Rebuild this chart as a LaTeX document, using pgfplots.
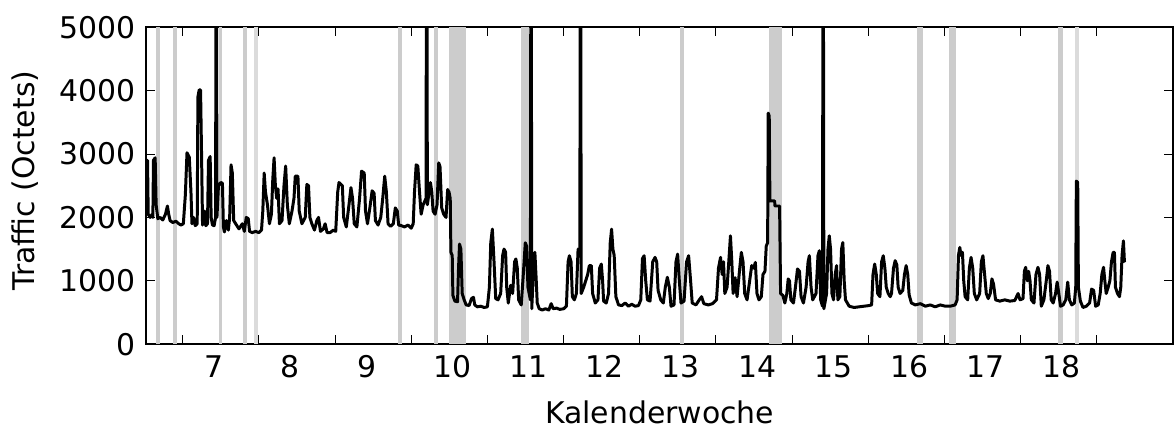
\documentclass[border=0pt]{standalone}
\usepackage{fontspec}
\setmainfont{DejaVu Sans}
\usepackage{pgfplots}
\pgfplotsset{compat=1.18}

\definecolor{band}{gray}{0.80}
\definecolor{bandlight}{gray}{0.86}

\begin{document}
\fontsize{15}{18}\selectfont
\begin{tikzpicture}
\begin{axis}[
    scale only axis,
    width=515.65pt, height=159.2pt,
    xmin=6.02, xmax=19.5,
    ymin=0, ymax=5000,
    axis line style={line width=0.9pt},
    tick align=inside,
    major tick length=4.5pt,
    minor tick length=4.5pt,
    tick style={line width=0.5pt, black},
    xtick={7,...,18},
    major x tick style={draw=none},
    minor xtick={6.5,7.5,...,18.5},
    ytick={0,1000,...,5000},
    /pgf/number format/assume math mode=true,
    /pgf/number format/1000 sep={},
    ticklabel style={font=\fontsize{15}{18}\selectfont},
    xticklabel style={anchor=north west, inner sep=0pt, xshift=-8.25pt, yshift=-5.5pt},
    yticklabel style={inner sep=0pt, xshift=-5pt},
    xlabel={Kalenderwoche},
    ylabel={Traffic (Octets)},
    xlabel style={at={(axis description cs:0.5,0)}, anchor=base, yshift=-39.6pt},
    ylabel style={at={([xshift=-55.85pt]axis description cs:0,0.516)}, anchor=base},
]
% Feiertage / Ausfälle
\addplot[fill=band, draw=none, forget plot] coordinates {(6.150,5000) (6.202,5000)} \closedcycle;
\addplot[fill=band, draw=none, forget plot] coordinates {(6.378,5000) (6.431,5000)} \closedcycle;
\addplot[fill=band, draw=none, forget plot] coordinates {(6.973,5000) (7.019,5000)} \closedcycle;
\addplot[fill=band, draw=none, forget plot] coordinates {(7.293,5000) (7.345,5000)} \closedcycle;
\addplot[fill=bandlight, draw=none, forget plot] coordinates {(7.437,5000) (7.489,5000)} \closedcycle;
\addplot[fill=band, draw=none, forget plot] coordinates {(9.325,5000) (9.377,5000)} \closedcycle;
\addplot[fill=band, draw=none, forget plot] coordinates {(9.795,5000) (9.848,5000)} \closedcycle;
\addplot[fill=band, draw=none, forget plot] coordinates {(9.998,5000) (10.220,5000)} \closedcycle;
\addplot[fill=band, draw=none, forget plot] coordinates {(10.945,5000) (11.050,5000)} \closedcycle;
\addplot[fill=band, draw=none, forget plot] coordinates {(13.030,5000) (13.083,5000)} \closedcycle;
\addplot[fill=band, draw=none, forget plot] coordinates {(14.190,5000) (14.370,5000)} \closedcycle;
\addplot[fill=band, draw=none, forget plot] coordinates {(16.135,5000) (16.214,5000)} \closedcycle;
\addplot[fill=band, draw=none, forget plot] coordinates {(16.558,5000) (16.649,5000)} \closedcycle;
\addplot[fill=band, draw=none, forget plot] coordinates {(17.995,5000) (18.060,5000)} \closedcycle;
\addplot[fill=bandlight, draw=none, forget plot] coordinates {(18.217,5000) (18.270,5000)} \closedcycle;

% Traffic
\addplot[black, line width=1.5pt, line join=round, mark=none] coordinates {
(6.022,2900) (6.039,2900) (6.048,2050) (6.074,2000) (6.100,2050) (6.109,2000)
(6.117,2900) (6.139,2940) (6.152,2200) (6.174,1980) (6.204,2000) (6.239,1960)
(6.274,2050) (6.300,2180) (6.317,2050) (6.335,1950) (6.370,1920) (6.413,1940)
(6.448,1900) (6.478,1880) (6.509,1900) (6.535,2350) (6.557,3020) (6.587,2950)
(6.609,2400) (6.622,1900) (6.643,2000) (6.665,1870) (6.691,1900) (6.700,3900)
(6.717,4010) (6.735,4010) (6.748,3000) (6.761,1880) (6.787,2100) (6.804,1870)
(6.826,1900) (6.839,2900) (6.861,2960) (6.874,2000) (6.891,1880) (6.913,1870)
(6.932,2000) (6.938,6000) (6.944,6000) (6.950,2000) (6.970,2500) (7.000,2550)
(7.022,2540) (7.035,1850) (7.048,1770) (7.074,1950) (7.100,1800) (7.117,2000)
(7.135,2830) (7.152,2700) (7.170,1950) (7.196,1900) (7.239,1820) (7.283,1900)
(7.309,1780) (7.335,2000) (7.361,1980) (7.378,1780) (7.413,1760) (7.457,1780)
(7.500,1760) (7.535,1800) (7.552,2100) (7.570,2700) (7.587,2400) (7.613,2200)
(7.639,1900) (7.665,2050) (7.683,2600) (7.700,2940) (7.717,2500) (7.735,2300)
(7.752,2450) (7.770,1900) (7.804,1950) (7.830,2500) (7.852,2810) (7.874,2200)
(7.900,1900) (7.935,2100) (7.961,2300) (7.978,2650) (8.013,2650) (8.030,2100)
(8.065,1900) (8.109,2000) (8.130,2520) (8.152,2500) (8.170,2000) (8.196,1900)
(8.230,1800) (8.261,1950) (8.283,2000) (8.309,1780) (8.348,1820) (8.370,1900)
(8.396,1760) (8.435,1760) (8.478,1800) (8.509,1780) (8.535,2400) (8.552,2550)
(8.596,2500) (8.613,2000) (8.648,1850) (8.683,2200) (8.709,2470) (8.730,2300)
(8.752,1900) (8.787,1850) (8.822,2300) (8.848,2730) (8.883,2700) (8.900,2100)
(8.926,1900) (8.957,2150) (8.987,2420) (9.013,2380) (9.030,1950) (9.065,1880)
(9.100,2000) (9.126,2300) (9.152,2650) (9.174,2400) (9.196,1900) (9.230,1860)
(9.265,1900) (9.291,2150) (9.317,2100) (9.335,1880) (9.370,1870) (9.413,1850)
(9.457,1880) (9.500,1830) (9.526,1900) (9.543,2400) (9.565,2830) (9.587,2810)
(9.609,2400) (9.630,2050) (9.657,2200) (9.694,2300) (9.700,6000) (9.706,6000)
(9.712,2200) (9.735,2400) (9.752,2550) (9.770,2400) (9.787,2100) (9.813,2050)
(9.839,2200) (9.861,2860) (9.878,2800) (9.900,2150) (9.926,2050) (9.957,2000)
(9.978,2440) (9.996,2400) (10.012,2300) (10.021,1450) (10.038,1400) (10.047,770)
(10.073,680) (10.108,670) (10.121,1200) (10.134,1580) (10.152,1500) (10.169,800)
(10.195,700) (10.221,620) (10.260,610) (10.291,720) (10.317,740) (10.334,620)
(10.369,590) (10.413,600) (10.456,580) (10.500,590) (10.526,900) (10.544,1600)
(10.565,1815) (10.587,1300) (10.609,720) (10.639,700) (10.674,800) (10.700,1400)
(10.718,1500) (10.739,1450) (10.753,900) (10.774,650) (10.805,930) (10.831,800)
(10.857,1300) (10.874,1345) (10.892,1200) (10.910,700) (10.944,620) (10.971,1100)
(10.997,1600) (11.014,1550) (11.032,900) (11.064,700) (11.070,6000) (11.076,6000)
(11.082,560) (11.106,1200) (11.123,1450) (11.141,1000) (11.154,650) (11.180,560)
(11.219,540) (11.262,560) (11.306,540) (11.337,640) (11.363,560) (11.406,570)
(11.450,550) (11.502,560) (11.537,600) (11.559,1300) (11.576,1396) (11.598,1300)
(11.615,750) (11.641,700) (11.668,800) (11.690,1500) (11.713,1450) (11.719,6000)
(11.725,6000) (11.731,800) (11.764,900) (11.790,1000) (11.816,1100) (11.838,1240)
(11.864,1240) (11.881,800) (11.916,650) (11.951,700) (11.973,1200) (11.995,1265)
(12.012,1000) (12.025,680) (12.060,650) (12.090,800) (12.112,1600) (12.130,1815)
(12.147,1500) (12.164,1400) (12.186,750) (12.221,620) (12.265,610) (12.308,650)
(12.351,600) (12.395,630) (12.439,600) (12.483,610) (12.513,700) (12.535,1350)
(12.557,1396) (12.578,1000) (12.600,700) (12.635,680) (12.670,1300) (12.700,1370)
(12.722,1300) (12.740,850) (12.775,700) (12.809,650) (12.835,900) (12.862,1056)
(12.888,900) (12.910,600) (12.949,620) (12.975,1300) (12.997,1422) (13.019,1000)
(13.041,650) (13.081,680) (13.114,1300) (13.141,1396) (13.167,1000) (13.188,650)
(13.237,620) (13.281,700) (13.311,750) (13.341,640) (13.398,620) (13.454,640)
(13.507,700) (13.533,1200) (13.560,1370) (13.581,1100) (13.599,1300) (13.616,800)
(13.646,900) (13.668,1300) (13.690,1710) (13.708,1300) (13.725,800) (13.751,1050)
(13.777,750) (13.812,1200) (13.833,1449) (13.855,1300) (13.877,800) (13.908,700)
(13.942,1000) (13.969,1240) (13.995,1200) (14.017,1290) (14.038,800) (14.064,700)
(14.095,750) (14.117,1100) (14.143,1150) (14.160,1550) (14.178,1600) (14.186,3645)
(14.199,3600) (14.208,2260) (14.270,2260) (14.274,2180) (14.335,2180) (14.348,800)
(14.378,770) (14.404,650) (14.430,800) (14.448,1030) (14.465,1000) (14.483,700)
(14.517,650) (14.543,900) (14.570,1187) (14.596,1150) (14.617,750) (14.648,650)
(14.683,900) (14.709,1300) (14.726,1396) (14.748,900) (14.770,700) (14.813,800)
(14.839,1400) (14.857,1475) (14.874,700) (14.898,600) (14.904,6000) (14.910,6000)
(14.916,560) (14.952,800) (14.970,1500) (14.987,1710) (15.004,1500) (15.022,800)
(15.043,700) (15.065,1100) (15.083,1240) (15.100,700) (15.126,750) (15.148,1500)
(15.165,1605) (15.183,1000) (15.200,700) (15.248,600) (15.313,580) (15.378,590)
(15.443,600) (15.509,610) (15.543,620) (15.561,1100) (15.583,1265) (15.604,1100)
(15.622,800) (15.652,750) (15.674,1300) (15.696,1396) (15.717,1200) (15.735,900)
(15.761,800) (15.787,750) (15.804,800) (15.830,1200) (15.852,1318) (15.874,1250)
(15.891,900) (15.917,800) (15.952,850) (15.974,1100) (15.996,1240) (16.017,1100)
(16.035,780) (16.065,650) (16.117,620) (16.183,640) (16.248,600) (16.313,620)
(16.378,590) (16.443,620) (16.509,600) (16.574,600) (16.639,620) (16.665,700)
(16.683,1400) (16.700,1527) (16.717,1400) (16.735,1450) (16.752,1000) (16.770,750)
(16.804,700) (16.826,1200) (16.848,1370) (16.870,1200) (16.891,800) (16.922,700)
(16.961,800) (16.983,1300) (17.004,1396) (17.026,1100) (17.048,800) (17.074,720)
(17.100,800) (17.122,1030) (17.143,950) (17.170,700) (17.226,680) (17.291,700)
(17.357,680) (17.422,690) (17.465,800) (17.491,700) (17.530,720) (17.548,1150)
(17.565,1213) (17.587,1000) (17.604,1150) (17.622,1000) (17.639,700) (17.674,650)
(17.700,1100) (17.726,1213) (17.748,1100) (17.770,600) (17.804,700) (17.835,1000)
(17.857,1240) (17.878,1150) (17.900,700) (17.926,650) (17.957,800) (17.978,980)
(18.000,800) (18.022,600) (18.057,620) (18.091,700) (18.117,980) (18.139,700)
(18.170,620) (18.204,650) (18.222,900) (18.230,2573) (18.248,2550) (18.257,900)
(18.283,680) (18.317,580) (18.361,600) (18.404,650) (18.430,870) (18.457,850)
(18.483,600) (18.517,620) (18.543,800) (18.565,1100) (18.587,1213) (18.604,1000)
(18.622,800) (18.648,900) (18.670,1000) (18.691,1300) (18.713,1450) (18.730,1450)
(18.743,900) (18.770,800) (18.796,750) (18.813,900) (18.830,1400) (18.848,1630)
(18.861,1300) (18.865,1290)
};
\end{axis}
\path[use as bounding box] ([xshift=-73.35pt, yshift=-40.65pt]current axis.south west)
    rectangle ([xshift=-2pt, yshift=13.65pt]current axis.north east);
\end{tikzpicture}
\end{document}
